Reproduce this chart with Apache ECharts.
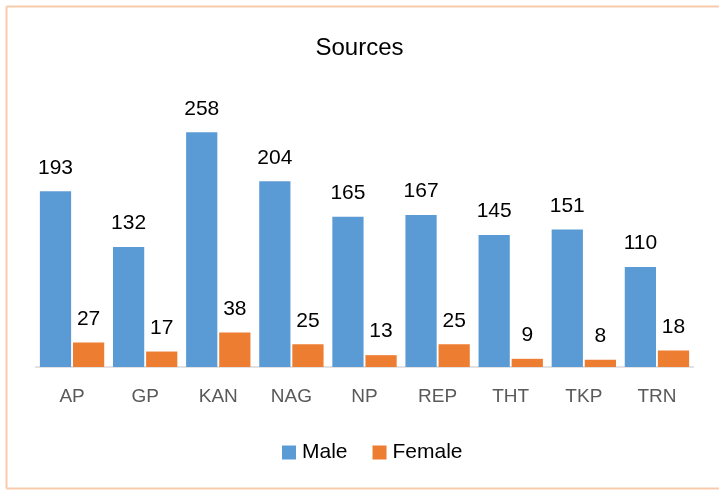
<!DOCTYPE html>
<html>
<head>
<meta charset="utf-8">
<title>Sources</title>
<script src="https://cdn.jsdelivr.net/npm/echarts@6/dist/echarts.min.js"></script>
<style>
  html, body { margin: 0; padding: 0; background: #fff; overflow: hidden; }
  #chart { width: 719px; height: 493px; }
</style>
</head>
<body>
<div id="chart"></div>
<script>
const categories = ['AP', 'GP', 'KAN', 'NAG', 'NP', 'REP', 'THT', 'TKP', 'TRN'];
const male = [193, 132, 258, 204, 165, 167, 145, 151, 110];
const female = [27, 17, 38, 25, 13, 25, 9, 8, 18];

const chart = echarts.init(document.getElementById('chart'));

const labelStyle = {
  show: true,
  position: 'top',
  distance: 13,
  color: '#000',
  fontSize: 21,
  fontFamily: 'Liberation Sans'
};

// chart frame: top, left and bottom edges only (right edge is cut off)
const frameStyle = { stroke: '#F8CBAD', lineWidth: 2 };

chart.setOption({
  animation: false,
  title: {
    text: 'Sources',
    left: 'center',
    top: 31,
    textStyle: {
      color: '#000',
      fontSize: 24,
      fontWeight: 'normal',
      fontFamily: 'Liberation Sans'
    }
  },
  legend: {
    left: 277,
    top: 437,
    itemWidth: 14,
    itemHeight: 14,
    itemGap: 25,
    icon: 'rect',
    textStyle: {
      color: '#000',
      fontSize: 21,
      fontFamily: 'Liberation Sans',
      padding: [0, 0, 0, 1]
    },
    data: ['Male', 'Female']
  },
  grid: {
    left: 35.5,
    right: 25.5,
    top: 94,
    bottom: 126
  },
  xAxis: {
    type: 'category',
    data: categories,
    axisTick: { show: false },
    axisLine: { lineStyle: { color: '#D9D9D9', width: 1.5 } },
    axisLabel: {
      margin: 20,
      color: '#595959',
      fontSize: 19,
      fontFamily: 'Liberation Sans'
    }
  },
  yAxis: {
    type: 'value',
    min: 0,
    max: 300,
    show: false,
    splitLine: { show: false }
  },
  series: [
    {
      name: 'Male',
      type: 'bar',
      data: male,
      barCategoryGap: '12%',
      barGap: '6%',
      itemStyle: { color: '#5B9BD5' },
      label: labelStyle
    },
    {
      name: 'Female',
      type: 'bar',
      data: female,
      itemStyle: { color: '#ED7D31' },
      label: labelStyle
    }
  ],
  graphic: [
    { type: 'line', silent: true, shape: { x1: 6.5, y1: 6.5, x2: 719, y2: 6.5 }, style: frameStyle },
    { type: 'line', silent: true, shape: { x1: 6.5, y1: 6.5, x2: 6.5, y2: 488.5 }, style: frameStyle },
    { type: 'line', silent: true, shape: { x1: 6.5, y1: 488.5, x2: 719, y2: 488.5 }, style: frameStyle }
  ]
});

window.onresize = chart.resize;
</script>
</body>
</html>
